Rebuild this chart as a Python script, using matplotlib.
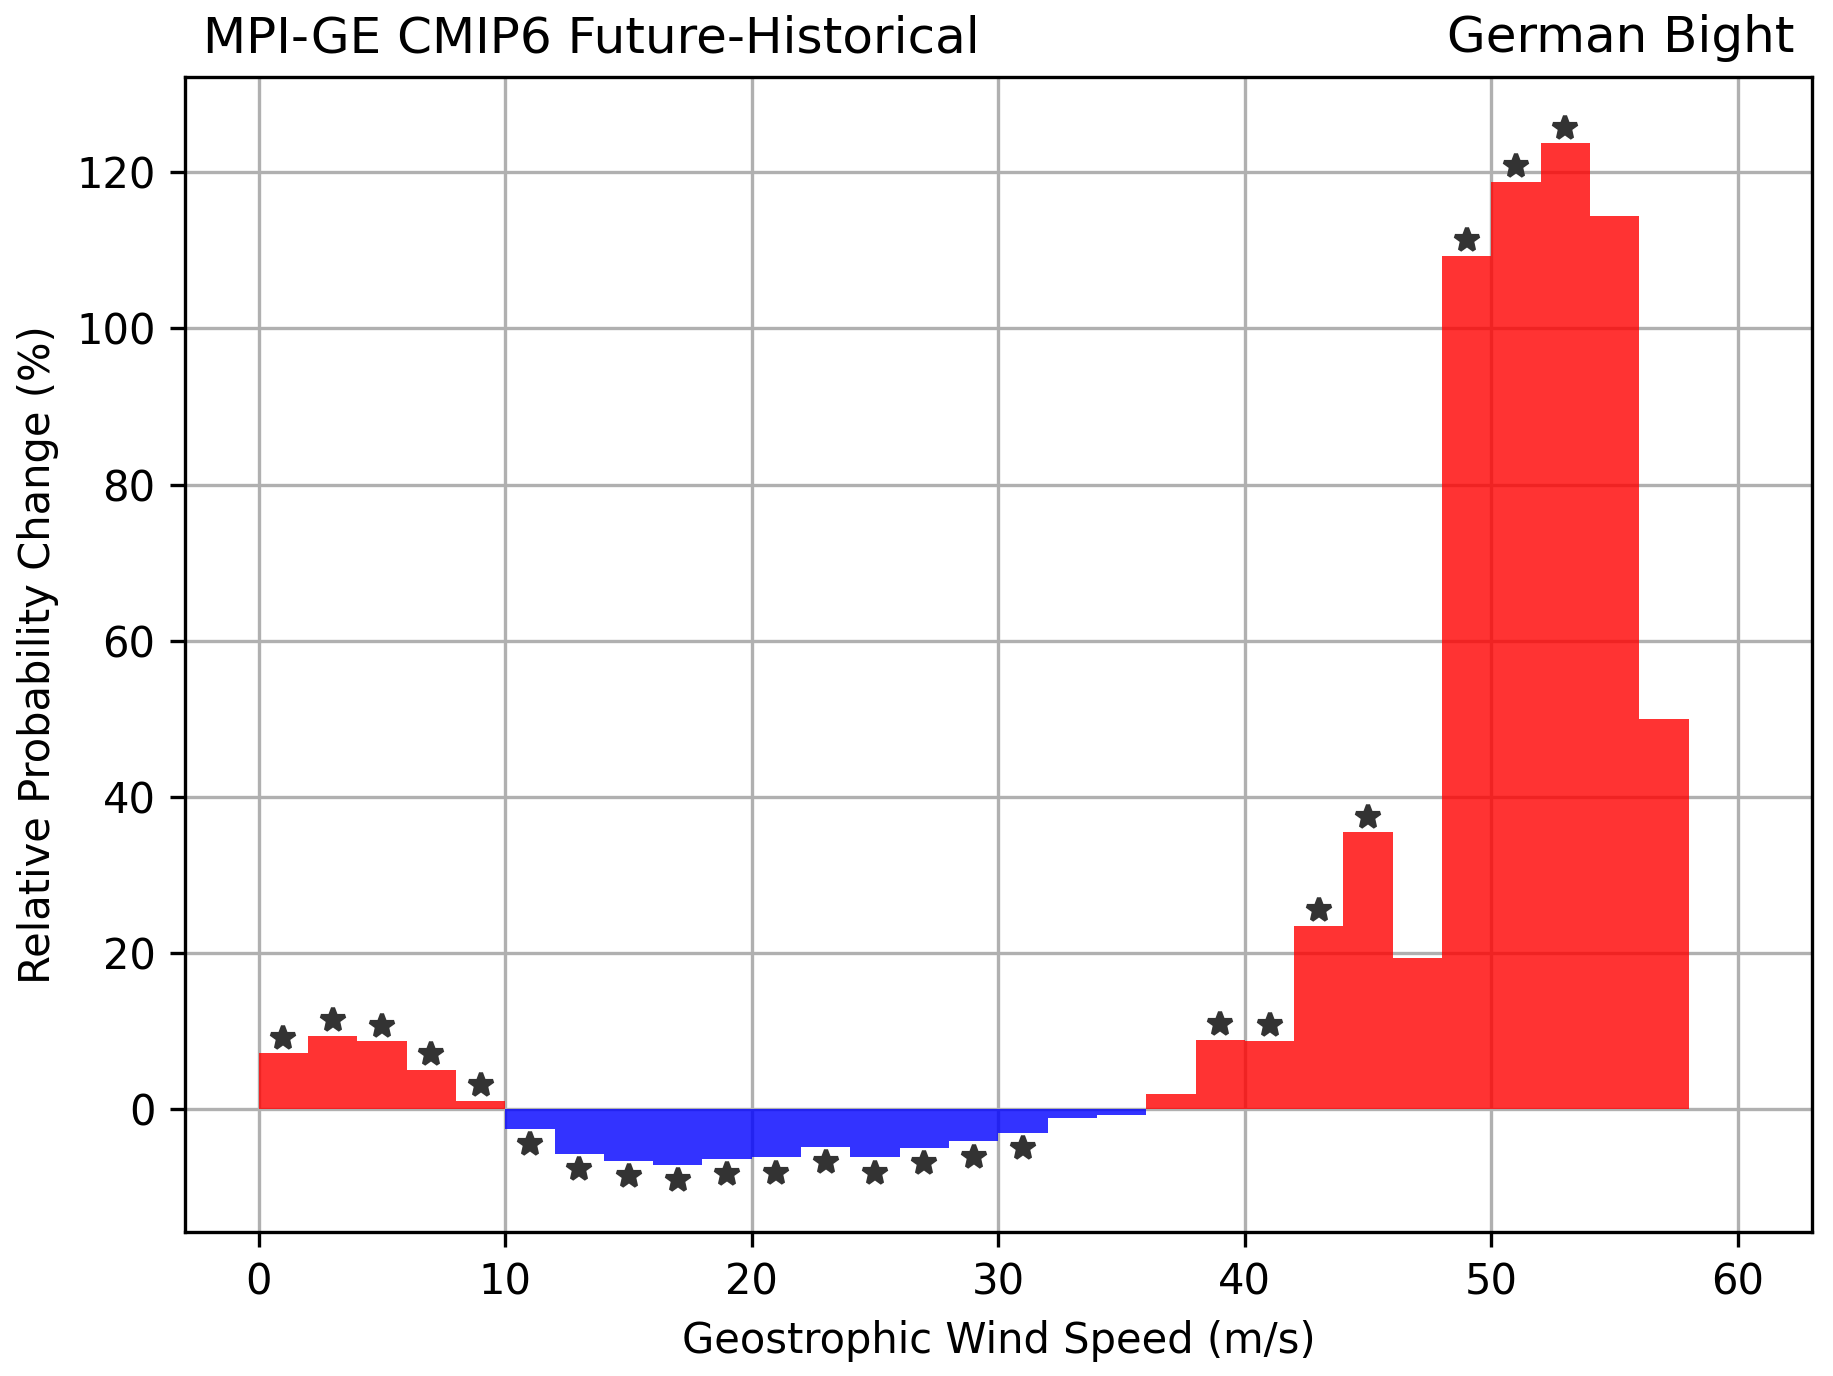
import matplotlib
matplotlib.use("Agg")
import matplotlib.pyplot as plt
import numpy as np

# bin left edges (m/s), width 2
edges = np.arange(0, 60, 2)
# relative probability change (%) per bin, last bin 58-60 empty
change = [7.2, 9.4, 8.7, 5.1, 1.1,
          -2.5, -5.7, -6.6, -7.1, -6.3, -6.1, -4.8, -6.1, -4.9, -4.1, -3.0, -1.1, -0.7,
          2.0, 8.9, 8.8, 23.5, 35.5, 19.4, 109.3, 118.8, 123.7, 114.4, 50.0, 0.0]
# bins with a significant change
signif = [1, 1, 1, 1, 1,
          1, 1, 1, 1, 1, 1, 1, 1, 1, 1, 1, 0, 0,
          0, 1, 1, 1, 1, 0, 1, 1, 1, 0, 0, 0]

change = np.array(change)
signif = np.array(signif, dtype=bool)
centers = edges + 1

fig, ax = plt.subplots(figsize=(1833 / 300, 1376 / 300), dpi=300)
cols = np.where(change >= 0, "red", "blue")
ax.bar(edges, change, width=2, align="edge", color=cols, alpha=0.8)

# stars above/below significant bins
off = np.where(change >= 0, 2.0, -2.0)
ax.plot(centers[signif], change[signif] + off[signif], "*", color="#333333",
        markersize=6, linestyle="none")

ax.set_axisbelow(True)
ax.grid(True)
ax.set_xlim(-3, 63)
ax.set_ylim(-15.7, 132.2)
ax.set_xticks([0, 10, 20, 30, 40, 50, 60])
ax.set_yticks([0, 20, 40, 60, 80, 100, 120])
ax.set_xlabel("Geostrophic Wind Speed (m/s)")
ax.set_ylabel("Relative Probability Change (%)")
ax.set_title("MPI-GE CMIP6 Future-Historical", loc="left", x=0.0115)
ax.set_title("German Bight", loc="right", x=0.989)

fig.subplots_adjust(left=0.1008, right=0.9885, top=0.944, bottom=0.1047)
fig.savefig("out.png", dpi=300)
